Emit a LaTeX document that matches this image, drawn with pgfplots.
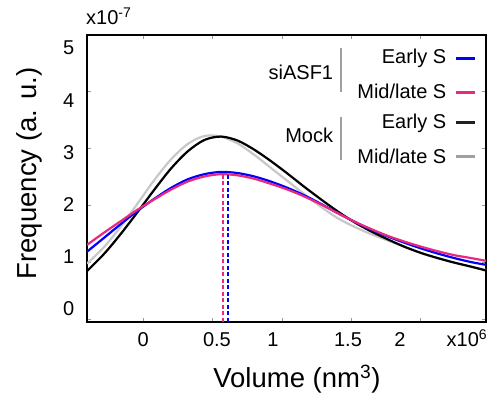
\documentclass[border=0pt]{standalone}
\usepackage{fontspec}
\setmainfont{Liberation Sans}
\usepackage{pgfplots}
\pgfplotsset{compat=1.18}
\definecolor{cblue}{RGB}{0,0,255}
\definecolor{cpink}{RGB}{232,41,128}
\definecolor{cgray}{RGB}{200,200,200}
\definecolor{lgray}{RGB}{160,160,160}
\definecolor{cblack}{RGB}{0,0,0}
\definecolor{tickgray}{RGB}{150,150,150}
\begin{document}
\begin{tikzpicture}[x=1pt,y=1pt]
\path[use as bounding box] (0,0) rectangle (489,398);
\begin{axis}[
  at={(87pt,76pt)}, anchor=south west,
  scale only axis, width=399pt, height=287pt,
  xmin=-0.406, xmax=2.471, ymin=-0.053, ymax=4.982,
  axis line style={line width=2pt, black},
  tick pos=both, tick align=inside,
  /pgf/number format/assume math mode=true,
  tick label style={font=\fontsize{20}{24}\selectfont, inner sep=0pt},
  xtick={0,0.5,1,1.5,2}, xticklabels={,,,,},
  ytick={0,1,2,3,4}, yticklabels={,,,,},
  major tick length=4pt,
  tick style={tickgray, line width=0.8pt},
  extra x ticks={0,0.531,0.935,1.476,1.851},
  extra x tick labels={0,0.5,1,1.5,2},
  extra x tick style={major tick length=0pt, xticklabel style={anchor=base, yshift=-25pt}},
  extra y ticks={0.19,1.09,2.0,2.92,3.83,4.76},
  extra y tick labels={0,1,2,3,4,5},
  extra y tick style={major tick length=0pt, yticklabel style={anchor=east, xshift=-12.5pt}},
  xlabel={Volume (nm\textsuperscript{3})},
  ylabel={Frequency (a. u.)},
  label style={font=\fontsize{27.5}{32}\selectfont},
  xlabel style={at={(axis description cs:0.526,-0.2275)}, anchor=base, inner sep=0pt},
  ylabel style={at={(axis description cs:-0.1278,0.518)}, anchor=base, inner sep=0pt},
  clip=true,
]
% Mock mid/late S (gray)
\addplot[cgray, line width=2.2pt, smooth] coordinates {
(-0.406,0.97) (-0.28,1.27) (-0.16,1.63) (-0.04,2.03) (0.08,2.44) (0.20,2.80) (0.32,3.07) (0.44,3.21) (0.56,3.20) (0.68,3.08) (0.80,2.88) (0.92,2.65) (1.04,2.42) (1.16,2.19) (1.28,1.97) (1.40,1.77) (1.52,1.62) (1.64,1.49) (1.76,1.38) (1.88,1.27) (2.00,1.16) (2.12,1.07) (2.24,0.99) (2.36,0.92) (2.471,0.86)};
% Mock early S (black)
\addplot[cblack, line width=2.2pt, smooth] coordinates {
(-0.406,0.84) (-0.28,1.15) (-0.16,1.50) (-0.04,1.88) (0.08,2.27) (0.20,2.64) (0.32,2.94) (0.44,3.14) (0.56,3.20) (0.68,3.13) (0.80,2.97) (0.92,2.77) (1.04,2.55) (1.16,2.32) (1.28,2.10) (1.40,1.89) (1.52,1.70) (1.64,1.54) (1.76,1.40) (1.88,1.27) (2.00,1.16) (2.12,1.07) (2.24,0.99) (2.36,0.92) (2.471,0.85)};
% siASF1 early S (blue)
\addplot[cblue, line width=2.2pt, smooth] coordinates {
(-0.406,1.18) (-0.28,1.43) (-0.16,1.67) (-0.04,1.90) (0.08,2.11) (0.20,2.30) (0.32,2.45) (0.44,2.54) (0.56,2.58) (0.68,2.56) (0.80,2.50) (0.92,2.41) (1.04,2.30) (1.16,2.17) (1.28,2.02) (1.40,1.86) (1.52,1.71) (1.64,1.57) (1.76,1.45) (1.88,1.34) (2.00,1.24) (2.12,1.15) (2.24,1.07) (2.36,1.00) (2.471,0.95)};
% siASF1 mid/late S (pink)
\addplot[cpink, line width=2.2pt, smooth] coordinates {
(-0.406,1.30) (-0.28,1.52) (-0.16,1.72) (-0.04,1.92) (0.08,2.10) (0.20,2.27) (0.32,2.41) (0.44,2.50) (0.56,2.54) (0.68,2.52) (0.80,2.46) (0.92,2.37) (1.04,2.27) (1.16,2.15) (1.28,2.01) (1.40,1.86) (1.52,1.71) (1.64,1.58) (1.76,1.46) (1.88,1.36) (2.00,1.27) (2.12,1.19) (2.24,1.12) (2.36,1.07) (2.471,1.02)};
% medians
\addplot[cpink, line width=2pt, dash pattern=on 4pt off 2.5pt] coordinates {(0.577,-0.053) (0.577,2.54)};
\addplot[cblue, line width=2pt, dash pattern=on 4pt off 2.5pt] coordinates {(0.613,-0.053) (0.613,2.58)};
\end{axis}
% exponent labels
\node[anchor=base west, inner sep=0pt, font=\fontsize{20}{24}\selectfont] at (86,373) {x10\textsuperscript{-7}};
\node[anchor=base west, inner sep=0pt, font=\fontsize{20}{24}\selectfont] at (446.5,51) {x10\textsuperscript{6}};
% legend
\begin{scope}[font=\fontsize{20}{24}\selectfont]
\node[anchor=base east, inner sep=0pt] at (446.5,334) {Early S};
\node[anchor=base east, inner sep=0pt] at (446.5,299) {Mid/late S};
\node[anchor=base east, inner sep=0pt] at (446.5,269.7) {Early S};
\node[anchor=base east, inner sep=0pt] at (446.5,234.7) {Mid/late S};
\node[anchor=base east, inner sep=0pt] at (333.3,318) {siASF1};
\node[anchor=base east, inner sep=0pt] at (333.3,255.3) {Mock};
\end{scope}
\draw[lgray, line width=1.7pt] (340.7,349.7) -- (340.7,306.3);
\draw[lgray, line width=1.7pt] (340.7,281.3) -- (340.7,238);
\draw[cblue, line width=3.5pt] (456,339.7) -- (475,339.7);
\draw[cpink, line width=3.5pt] (456,305.7) -- (475,305.7);
\draw[black!87, line width=3.5pt] (456,275.7) -- (475,275.7);
\draw[lgray, line width=3.5pt] (456,241.3) -- (475,241.3);
\end{tikzpicture}
\end{document}
